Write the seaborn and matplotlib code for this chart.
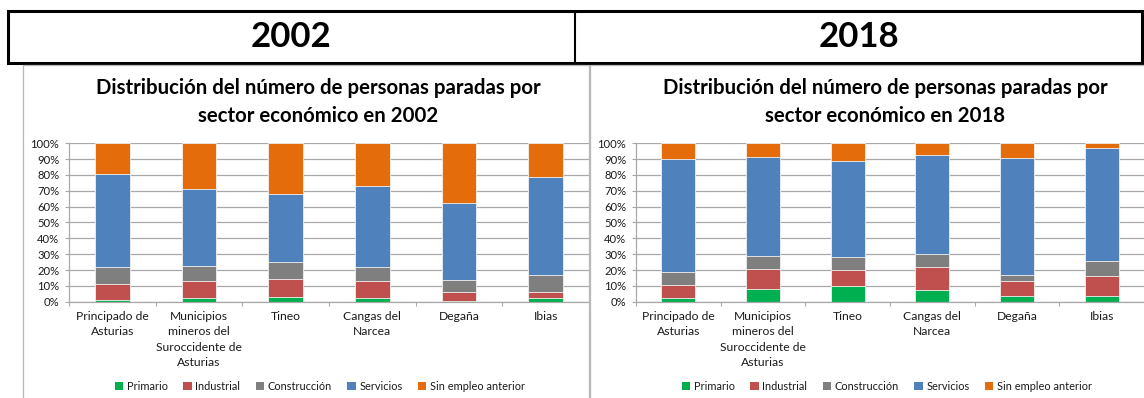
import matplotlib
matplotlib.use("Agg")
import matplotlib.pyplot as plt
from matplotlib.patches import Rectangle, Patch
from matplotlib.lines import Line2D
import numpy as np
import pandas as pd
import seaborn as sns

# ---- data (percentage of unemployed people by economic sector) ----
categories = [
    "Principado de\nAsturias",
    "Municipios\nmineros del\nSuroccidente de\nAsturias",
    "Tineo",
    "Cangas del\nNarcea",
    "Degaña",
    "Ibias",
]
sectors = ["Primario", "Industrial", "Construcción", "Servicios", "Sin empleo anterior"]
years = ["2002", "2018"]

primario_2002 = [0.9, 2.3, 3.0, 2.3, 0.2, 2.1]
industrial_2002 = [10.1, 10.6, 11.2, 10.6, 5.7, 3.8]
construccion_2002 = [11.2, 9.7, 11.0, 9.3, 7.8, 11.0]
servicios_2002 = [58.3, 48.4, 43.1, 51.0, 48.3, 62.0]
sin_empleo_2002 = [19.5, 29.0, 31.7, 26.8, 38.0, 21.1]

primario_2018 = [2.1, 8.0, 9.9, 7.4, 3.6, 3.4]
industrial_2018 = [8.3, 12.7, 10.2, 14.4, 9.5, 12.9]
construccion_2018 = [8.4, 8.3, 8.2, 8.4, 3.8, 9.3]
servicios_2018 = [71.3, 62.1, 60.5, 62.4, 74.0, 71.2]
sin_empleo_2018 = [9.9, 8.9, 11.2, 7.4, 9.1, 3.2]

y_ticks = list(range(0, 101, 10))
y_tick_labels = [f"{v}%" for v in y_ticks]

series_by_year = {
    "2002": [primario_2002, industrial_2002, construccion_2002, servicios_2002, sin_empleo_2002],
    "2018": [primario_2018, industrial_2018, construccion_2018, servicios_2018, sin_empleo_2018],
}

colors = ["#00B050", "#C0504D", "#7F7F7F", "#4F81BD", "#E46C0A"]

# ---- style ----
sns.set_theme(style="white")
plt.rcParams["font.family"] = ["Lato", "DejaVu Sans"]

W, H = 1144, 398
fig = plt.figure(figsize=(W / 100, H / 100), dpi=100)


def fx(x):
    return x / W


def fy(y):
    return 1 - y / H


grid_gray = "#A8A8A8"
frame_gray = "#B8B8B8"

# header table with the two years
fig.add_artist(Rectangle((fx(8), fy(63)), fx(1142) - fx(8), (63 - 11) / H,
                         transform=fig.transFigure, fill=False,
                         edgecolor="black", linewidth=2.2))
fig.add_artist(Line2D([fx(575), fx(575)], [fy(11), fy(63)],
                      transform=fig.transFigure, color="black", linewidth=1.5))
for year, cx in zip(years, [291.5, 858.5]):
    fig.text(fx(cx), fy(37), year, ha="center", va="center",
             fontsize=25, fontweight="bold", color="black")

# chart frames under the header
fig.add_artist(Line2D([fx(23), fx(23), fx(589), fx(589)],
                      [fy(400), fy(65), fy(65), fy(400)],
                      transform=fig.transFigure, color=frame_gray, linewidth=0.9))
fig.add_artist(Line2D([fx(590), fx(590), fx(1146)],
                      [fy(400), fy(65), fy(65)],
                      transform=fig.transFigure, color=frame_gray, linewidth=0.9))

slot = 88.0  # pixel width of one category slot
panels = [
    {"year": "2002", "x0": 69, "x1": 589, "cx": 318},
    {"year": "2018", "x0": 636, "x1": 1144, "cx": 885},
]

for p in panels:
    ax = fig.add_axes([fx(p["x0"]), fy(301.7), (p["x1"] - p["x0"]) / W, 158.4 / H])
    vals = np.array(series_by_year[p["year"]])
    cum = np.cumsum(vals, axis=0)
    # stacked bars: draw cumulative totals from the top segment down
    for i in reversed(range(len(sectors))):
        df = pd.DataFrame({"zona": categories, "valor": cum[i]})
        sns.barplot(data=df, x="zona", y="valor", order=categories,
                    color=colors[i], saturation=1, width=0.4,
                    edgecolor="#F2F2F2", linewidth=0.6, errorbar=None, ax=ax)

    ax.set_xlim(-0.5, -0.5 + (p["x1"] - p["x0"]) / slot)
    ax.set_ylim(0, 100)
    ax.set_yticks(y_ticks)
    ax.set_yticklabels(y_tick_labels)
    ax.set_xticks(range(len(categories)))
    ax.set_xticklabels(categories, linespacing=1.45)
    ax.set_xticks(np.arange(-0.5, len(categories), 1.0), minor=True)
    ax.set_xlabel("")
    ax.set_ylabel("")
    ax.set_axisbelow(True)
    ax.grid(axis="y", color=grid_gray, linewidth=0.9)
    ax.grid(axis="x", visible=False)
    for s in ["top", "right"]:
        ax.spines[s].set_visible(False)
    for s in ["left", "bottom"]:
        ax.spines[s].set_color(grid_gray)
        ax.spines[s].set_linewidth(0.9)
    ax.tick_params(axis="y", which="major", left=True, length=3, width=0.8,
                   color=grid_gray, labelsize=8.1, pad=4, labelcolor="#1A1A1A")
    ax.tick_params(axis="x", which="major", bottom=False, length=0,
                   labelsize=8.7, pad=7, labelcolor="#1A1A1A")
    ax.tick_params(axis="x", which="minor", bottom=True, length=3, width=0.8,
                   color=grid_gray)

    fig.text(fx(p["cx"]), fy(102),
             f"Distribución del número de personas paradas por\nsector económico en {p['year']}",
             ha="center", va="center", fontsize=14.7, fontweight="bold",
             color="black", linespacing=1.5)

    handles = [Patch(facecolor=c, edgecolor="none") for c in colors]
    fig.legend(handles, sectors, ncol=5, loc="center",
               bbox_to_anchor=(fx(p["cx"] + 2), fy(386)), frameon=False,
               fontsize=7.9, handlelength=0.75, handleheight=0.75,
               handletextpad=0.35, columnspacing=1.4, borderpad=0,
               labelcolor="#1A1A1A")

fig.savefig("out.png", dpi=100)
